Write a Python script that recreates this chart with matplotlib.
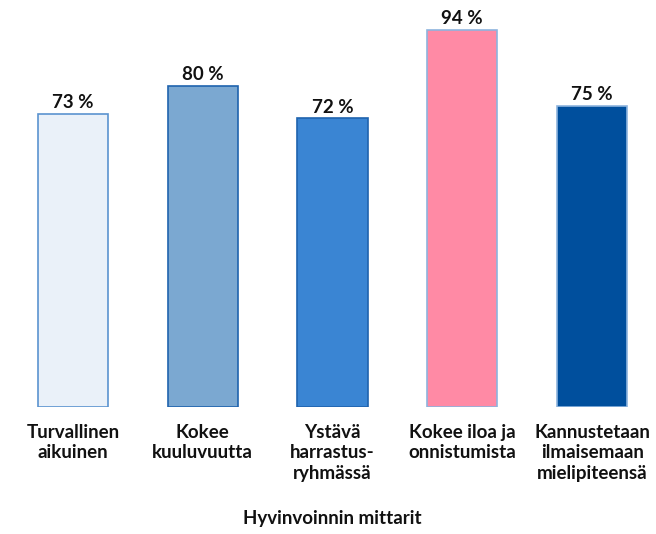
import matplotlib
matplotlib.use("Agg")
import matplotlib.pyplot as plt

categories = ["Turvallinen\naikuinen", "Kokee\nkuuluvuutta", "Ystävä\nharrastus-\nryhmässä",
              "Kokee iloa ja\nonnistumista", "Kannustetaan\nilmaisemaan\nmielipiteensä"]
values = [73, 80, 72, 94, 75]
fill_colors = ["#EAF1F9", "#7BA8D1", "#3A85D3", "#FF8AA5", "#004F9D"]
edge_colors = ["#5B93CF", "#1F63AE", "#1F63AE", "#8DB4DE", "#8DB4DE"]
xlabel = "Hyvinvoinnin mittarit"

plt.rcParams['font.family'] = ['Lato', 'DejaVu Sans']

fig = plt.figure(figsize=(6.56, 5.34), dpi=100)
ax = fig.add_axes([8/656, 127/534, 649/656, (401)/534])
x = range(len(values))
bars = ax.bar(x, values, width=0.54, color=fill_colors, edgecolor=edge_colors, linewidth=1.2)
for xi, v in zip(x, values):
    ax.annotate(f"{v} %", (xi, v), xytext=(0, 2), textcoords="offset points",
                ha="center", va="bottom", fontsize=13.5, fontweight="bold", color="#111111")
ax.set_xlim(-0.5, 4.5)
ax.set_ylim(0, 100)
ax.set_xticks(list(x))
ax.set_xticklabels(categories, fontsize=13.5, fontweight="bold", color="#111111", linespacing=1.26)
ax.tick_params(axis="x", length=0, pad=12)
ax.set_yticks([])
for s in ax.spines.values():
    s.set_visible(False)
ax.set_xlabel(xlabel, fontsize=13.5, fontweight="bold", color="#111111", labelpad=20)
fig.savefig("out.png", dpi=100)
